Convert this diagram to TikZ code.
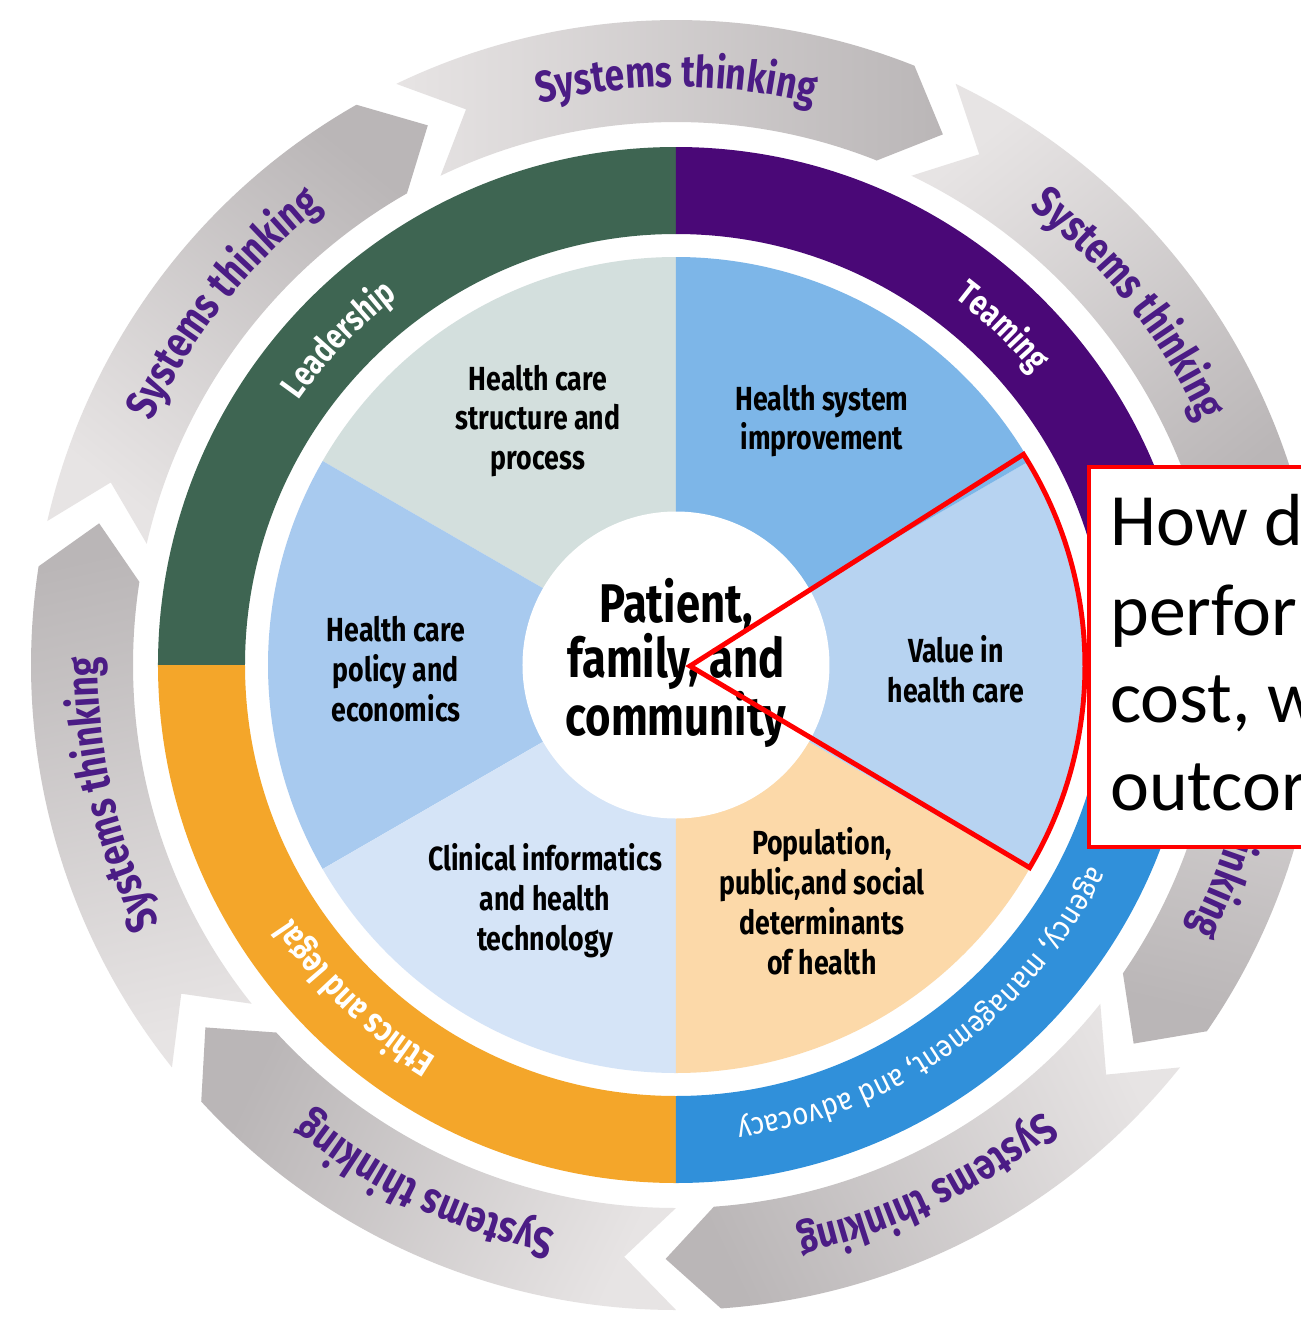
\documentclass[tikz,border=0pt]{standalone}
\usepackage{fontspec}
\usepackage{tikz}
\usetikzlibrary{decorations.text}
\newfontfamily\wheelfont[FakeStretch=0.8]{Fira Sans}
\newfontfamily\ringfont[FakeStretch=0.9]{Fira Sans}
\newfontfamily\calloutfont{Carlito}

\definecolor{leadgreen}{HTML}{3E6552}
\definecolor{teampurple}{HTML}{4A0877}
\definecolor{ethicsorange}{HTML}{F4A62A}
\definecolor{agencyblue}{HTML}{3090DA}
\definecolor{structgray}{HTML}{D3DFDD}
\definecolor{improveblue}{HTML}{7DB6E8}
\definecolor{valueblue}{HTML}{B7D3F1}
\definecolor{popupeach}{HTML}{FCD9A9}
\definecolor{clinicblue}{HTML}{D5E4F7}
\definecolor{policyblue}{HTML}{A8CAEF}
\definecolor{arrowlight}{HTML}{E7E4E4}
\definecolor{arrowdark}{HTML}{BAB6B7}
\definecolor{stpurple}{HTML}{4B1C85}

\newcommand\arrowtext{\wheelfont\bfseries\fontsize{25}{25}\selectfont\color{stpurple}}
\newcommand\ringtext{\wheelfont\bfseries\fontsize{20}{20}\selectfont\color{white}}
\newcommand\agencytext{\ringfont\fontsize{17.6}{17.6}\selectfont\color{white}}

\tikzset{
	arrowshade/.style={top color=arrowdark, bottom color=arrowlight},
	sectorlabel/.style={font=\wheelfont\bfseries\fontsize{19}{22.7}\selectfont, align=center, text=black},
	centerlabel/.style={font=\wheelfont\bfseries\fontsize{31}{30.6}\selectfont, align=center, text=black},
	callouttext/.style={font=\calloutfont\fontsize{42}{50}\selectfont, anchor=base west, inner sep=0pt},
}

\begin{document}
\begin{tikzpicture}
		\useasboundingbox (-13.52,-13.04) rectangle (12.5,13.3);
		\clip (-13.52,-13.04) rectangle (12.5,13.3);
		\fill[white] (-13.52,-13.04) rectangle (12.5,13.3);

		% systems thinking arrows, clockwise
		\shade[arrowshade, shading angle=-90] (115.7:12.9) arc[start angle=115.7, end angle=68.3, radius=12.9] -- (63.3:11.88) -- (68.3:10.86) arc[start angle=68.3, end angle=115.7, radius=10.86] -- (110.7:11.88) -- cycle;
		\shade[arrowshade, shading angle=-141.4] (64.3:12.9) arc[start angle=64.3, end angle=16.9, radius=12.9] -- (11.9:11.88) -- (16.9:10.86) arc[start angle=16.9, end angle=64.3, radius=10.86] -- (59.3:11.88) -- cycle;
		\shade[arrowshade, shading angle=-192.9] (12.8:12.9) arc[start angle=12.8, end angle=-34.6, radius=12.9] -- (-39.6:11.88) -- (-34.6:10.86) arc[start angle=-34.6, end angle=12.8, radius=10.86] -- (7.8:11.88) -- cycle;
		\shade[arrowshade, shading angle=-244.3] (-38.6:12.9) arc[start angle=-38.6, end angle=-86, radius=12.9] -- (-91:11.88) -- (-86:10.86) arc[start angle=-86, end angle=-38.6, radius=10.86] -- (-43.6:11.88) -- cycle;
		\shade[arrowshade, shading angle=-295.7] (-90:12.9) arc[start angle=-90, end angle=-137.4, radius=12.9] -- (-142.4:11.88) -- (-137.4:10.86) arc[start angle=-137.4, end angle=-90, radius=10.86] -- (-95:11.88) -- cycle;
		\shade[arrowshade, shading angle=-347.1] (-141.4:12.9) arc[start angle=-141.4, end angle=-188.8, radius=12.9] -- (-193.8:11.88) -- (-188.8:10.86) arc[start angle=-188.8, end angle=-141.4, radius=10.86] -- (-146.4:11.88) -- cycle;
		\shade[arrowshade, shading angle=-398.6] (-192.9:12.9) arc[start angle=-192.9, end angle=-240.3, radius=12.9] -- (-245.3:11.88) -- (-240.3:10.86) arc[start angle=-240.3, end angle=-192.9, radius=10.86] -- (-197.9:11.88) -- cycle;

		\path[decorate, decoration={text along path, text={|\arrowtext|Systems thinking}, text align=center}] (112:11.56) arc[start angle=112, end angle=68, radius=11.56];
		\path[decorate, decoration={text along path, text={|\arrowtext|Systems thinking}, text align=center}] (60.6:11.56) arc[start angle=60.6, end angle=16.6, radius=11.56];
		%\path[decorate, decoration={text along path, text={|\arrowtext|Systems thinking}, text align=center}] (9.1:11.56) arc[start angle=9.1, end angle=-34.9, radius=11.56];
		\path[decorate, decoration={text along path, text={|\arrowtext|thinking}, text align=right}] (9.1:11.56) arc[start angle=9.1, end angle=-27.3, radius=11.56];
		\path[decorate, decoration={text along path, text={|\arrowtext|Systems thinking}, text align=center}] (-42.3:11.56) arc[start angle=-42.3, end angle=-86.3, radius=11.56];
		\path[decorate, decoration={text along path, text={|\arrowtext|Systems thinking}, text align=center}] (-93.7:11.56) arc[start angle=-93.7, end angle=-137.7, radius=11.56];
		\path[decorate, decoration={text along path, text={|\arrowtext|Systems thinking}, text align=center}] (-145.1:11.56) arc[start angle=-145.1, end angle=-189.1, radius=11.56];
		\path[decorate, decoration={text along path, text={|\arrowtext|Systems thinking}, text align=center}] (163.4:11.56) arc[start angle=163.4, end angle=119.4, radius=11.56];

		% outer ring
		\fill[leadgreen] (90:10.36) arc[start angle=90, end angle=180, radius=10.36] -- (180:8.62) arc[start angle=180, end angle=90, radius=8.62] -- cycle;
		\fill[ethicsorange] (180:10.36) arc[start angle=180, end angle=270, radius=10.36] -- (270:8.62) arc[start angle=270, end angle=180, radius=8.62] -- cycle;
		\fill[agencyblue] (270:10.36) arc[start angle=270, end angle=360, radius=10.36] -- (0:8.62) arc[start angle=360, end angle=270, radius=8.62] -- cycle;
		\fill[teampurple] (0:10.36) arc[start angle=0, end angle=90, radius=10.36] -- (90:8.62) arc[start angle=90, end angle=0, radius=8.62] -- cycle;

		\path[decorate, decoration={text along path, text={|\ringtext|Leadership}, text align=center}] (176:9.22) arc[start angle=176, end angle=96, radius=9.22];
		\path[decorate, decoration={text along path, text={|\ringtext|Teaming}, text align=center}] (86:9.22) arc[start angle=86, end angle=6, radius=9.22];
		\path[decorate, decoration={text along path, text={|\ringtext|Ethics and legal}, text align=center}] (266:9.2) arc[start angle=266, end angle=186, radius=9.2];
		\path[decorate, decoration={text along path, text={|\agencytext|agency, management, and advocacy}, text align=right}] (352:9.2) arc[start angle=352, end angle=277.6, radius=9.2];

		% inner sectors
		\fill[structgray] (0,0) -- (90:8.16) arc[start angle=90, end angle=150, radius=8.16] -- cycle;
		\fill[policyblue] (0,0) -- (150:8.16) arc[start angle=150, end angle=210, radius=8.16] -- cycle;
		\fill[clinicblue] (0,0) -- (210:8.16) arc[start angle=210, end angle=270, radius=8.16] -- cycle;
		\fill[popupeach] (0,0) -- (270:8.16) arc[start angle=270, end angle=330, radius=8.16] -- cycle;
		\fill[valueblue] (0,0) -- (330:8.16) arc[start angle=330, end angle=390, radius=8.16] -- cycle;
		\fill[improveblue] (0,0) -- (30:8.16) arc[start angle=30, end angle=90, radius=8.16] -- cycle;
		\fill[white] (0,0) circle[radius=3.07];

		\node[sectorlabel] (structure) at (-2.76,4.88) {Health care\\structure and\\process};
		\node[sectorlabel] (improvement) at (2.92,4.88) {Health system\\improvement};
		\node[sectorlabel] (policy) at (-5.6,-0.08) {Health care\\policy and\\economics};
		\node[sectorlabel] (value) at (5.6,-0.08) {Value in\\health care};
		\node[sectorlabel] (clinical) at (-2.62,-4.72) {Clinical informatics\\and health\\technology};
		\node[sectorlabel] (population) at (2.92,-4.73) {Population,\\public,and social\\determinants\\of health};
		\node[centerlabel] (patient) at (0,0.04) {Patient,\\family, and\\community};

		% callout
		\coordinate (apex) at (0.28,-0.02);
		\draw[red, line width=2.8pt, line join=miter] (apex) -- ++(32.4:7.9) arc[start angle=32.4, end angle=-30.7, radius=7.9] -- cycle;
		\node[draw=red, line width=2pt, fill=white, minimum width=6cm, minimum height=7.6cm, anchor=north west, inner sep=0pt] (callout) at (8.22,4.0) {};
		\node[callouttext] (q1) at (8.68,2.4) {How d};
		\node[callouttext] (q2) at (8.68,0.6) {perfor};
		\node[callouttext] (q3) at (8.68,-1.14) {cost, w};
		\node[callouttext] (q4) at (8.68,-2.9) {outcor};
	\end{tikzpicture}
\end{document}
